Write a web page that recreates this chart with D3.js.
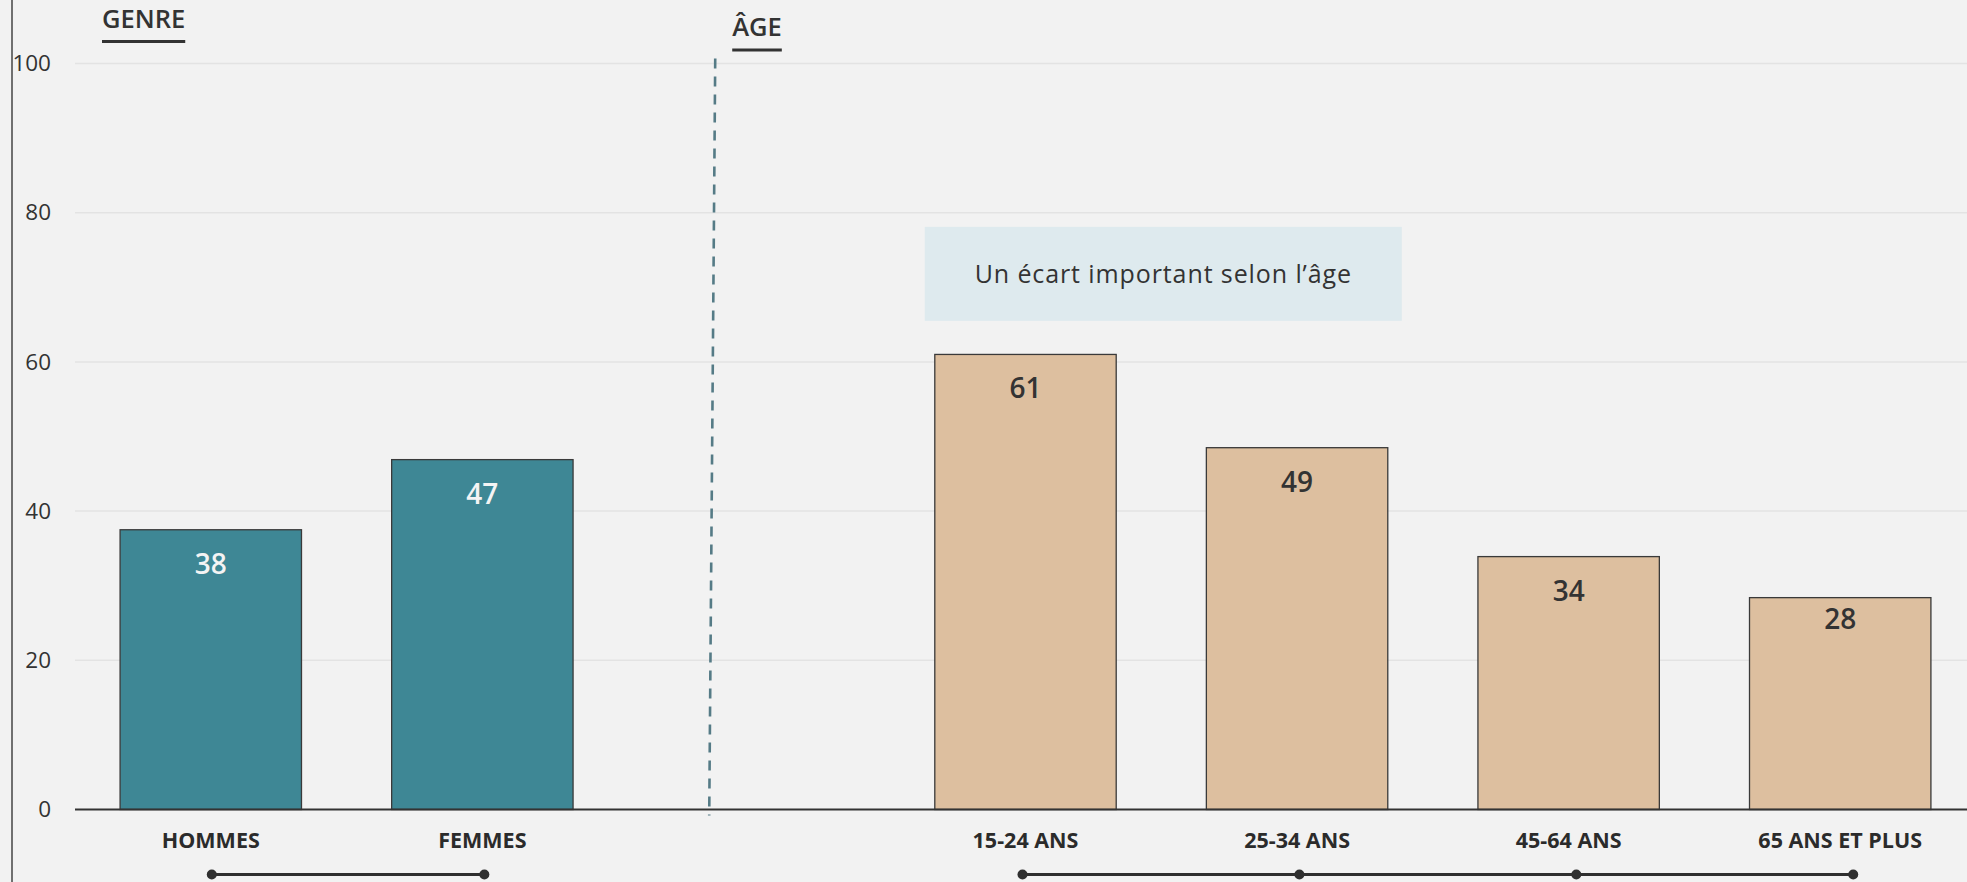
<!DOCTYPE html>
<html>
<head>
<meta charset="utf-8">
<script src="https://cdn.jsdelivr.net/npm/d3@7"></script>
<style>
  html, body { margin: 0; padding: 0; background: #f2f2f2; }
  svg { display: block; }
  text { font-family: "Open Sans", "Noto Sans", sans-serif; }
</style>
</head>
<body>
<svg id="chart" width="1967" height="882"></svg>
<script>
// ---- data ----
const genreCategories = ["HOMMES", "FEMMES"];
const genreValues = [37.5, 46.9];
const genreLabels = ["38", "47"];

const ageCategories = ["15-24 ANS", "25-34 ANS", "45-64 ANS", "65 ANS ET PLUS"];
const ageValues = [61.0, 48.5, 33.9, 28.4];
const ageLabels = ["61", "49", "34", "28"];

const yTicks = [0, 20, 40, 60, 80, 100];
const sectionTitles = ["GENRE", "ÂGE"];
const annotationText = "Un écart important selon l\u2019âge";

// ---- layout ----
const W = 1967, H = 882;
const svg = d3.select("#chart");
const GAP = "__gap__";
const domain = [...genreCategories, GAP, ...ageCategories];

const x = d3.scaleBand().domain(domain).range([75, 1976]).paddingInner(0.332).paddingOuter(0.166);
const y = d3.scaleLinear().domain([0, 100]).range([809.5, 63.5]);

const bars = [
  ...genreCategories.map((c, i) => ({ cat: c, v: genreValues[i], label: genreLabels[i], group: "genre" })),
  ...ageCategories.map((c, i) => ({ cat: c, v: ageValues[i], label: ageLabels[i], group: "age" }))
];
const fill = { genre: "#3e8795", age: "#ddbf9f" };
const labelColor = { genre: "#f4f4f4", age: "#333333" };
// label placement quirk of the original (last label sits closer to the bar top)
const labelOffset = d => d.cat === ageCategories[3] ? 31 : 44;

// left frame line
svg.append("line").attr("x1", 12).attr("x2", 12).attr("y1", 0).attr("y2", H)
  .attr("stroke", "#444").attr("stroke-width", 1.5);

// gridlines
svg.append("g").selectAll("line").data(yTicks.filter(d => d > 0)).join("line")
  .attr("x1", 75).attr("x2", W).attr("y1", d => y(d)).attr("y2", d => y(d))
  .attr("stroke", "#e3e3e3").attr("stroke-width", 1.5);

// y axis labels
const yAxis = svg.append("g").attr("transform", "translate(51,0)")
  .call(d3.axisLeft(y).tickValues(yTicks).tickSize(0).tickPadding(0).tickFormat(d3.format("d")));
yAxis.select(".domain").remove();
yAxis.selectAll("text").attr("font-size", 22.5).attr("fill", "#333")
  .attr("font-family", "'Open Sans', sans-serif");

// annotation box
const annX0 = x(ageCategories[0]) - 10;
const annX1 = x(ageCategories[1]) + x.bandwidth() + 14;
svg.append("rect").attr("x", annX0).attr("width", annX1 - annX0)
  .attr("y", y(78.1)).attr("height", y(65.5) - y(78.1)).attr("fill", "#deeaee");
svg.append("text").attr("x", (annX0 + annX1) / 2).attr("y", y(71.8)).attr("dy", "0.35em")
  .attr("text-anchor", "middle").attr("font-size", 25).attr("fill", "#333")
  .attr("letter-spacing", "0.9px").text(annotationText);

// bars
svg.append("g").selectAll("rect").data(bars).join("rect")
  .attr("x", d => x(d.cat)).attr("width", x.bandwidth())
  .attr("y", d => y(d.v)).attr("height", d => y(0) - y(d.v))
  .attr("fill", d => fill[d.group]).attr("stroke", "#3a3a3a").attr("stroke-width", 1.3);

// value labels
svg.append("g").selectAll("text").data(bars).join("text")
  .attr("x", d => x(d.cat) + x.bandwidth() / 2).attr("y", d => y(d.v) + labelOffset(d))
  .attr("text-anchor", "middle").attr("font-size", 28).attr("font-weight", 600)
  .attr("fill", d => labelColor[d.group]).text(d => d.label);

// zero baseline
svg.append("line").attr("x1", 75).attr("x2", W).attr("y1", y(0)).attr("y2", y(0))
  .attr("stroke", "#333").attr("stroke-width", 2);

// x axis labels
const xAxis = svg.append("g").attr("transform", `translate(0,${y(0)})`)
  .call(d3.axisBottom(x).tickValues([...genreCategories, ...ageCategories]).tickSize(0).tickPadding(0));
xAxis.select(".domain").remove();
xAxis.selectAll("text").attr("font-size", 21.5).attr("font-weight", 700).attr("fill", "#2b2b2b")
  .attr("font-family", "'Open Sans', sans-serif").attr("dy", null).attr("y", 38.5);

// section divider (dashed)
const divX = x(GAP) + 49;
svg.append("line").attr("x1", divX + 3).attr("x2", divX - 3)
  .attr("y1", y(100) - 5).attr("y2", y(0) + 6)
  .attr("stroke", "#557b86").attr("stroke-width", 2.6).attr("stroke-dasharray", "10,8");

// section titles
const titles = [
  { t: sectionTitles[0], x: 102, y: 28, uy: 41.5 },
  { t: sectionTitles[1], x: divX + 20, y: 36, uy: 50 }
];
titles.forEach(o => {
  const t = svg.append("text").attr("x", o.x).attr("y", o.y).attr("font-size", 25.5)
    .attr("font-weight", 600).attr("fill", "#333").text(o.t);
  const w = t.node().getComputedTextLength();
  svg.append("line").attr("x1", o.x).attr("x2", o.x + w).attr("y1", o.uy).attr("y2", o.uy)
    .attr("stroke", "#333").attr("stroke-width", 3);
});

// group connectors with dots
const connY = 874.5;
function connector(cats, x0, x1) {
  const p = d3.scalePoint().domain(cats).range([x0, x1]);
  const g = svg.append("g");
  g.append("line").attr("x1", x0).attr("x2", x1).attr("y1", connY).attr("y2", connY)
    .attr("stroke", "#2f2f2f").attr("stroke-width", 2.8);
  g.selectAll("circle").data(cats).join("circle")
    .attr("cx", d => p(d)).attr("cy", connY).attr("r", 5).attr("fill", "#2f2f2f");
}
const cx = c => x(c) + x.bandwidth() / 2;
connector(genreCategories, cx(genreCategories[0]) + 1, cx(genreCategories[1]) + 2);
connector(ageCategories, cx(ageCategories[0]) - 3, cx(ageCategories[3]) + 13);
</script>
</body>
</html>
